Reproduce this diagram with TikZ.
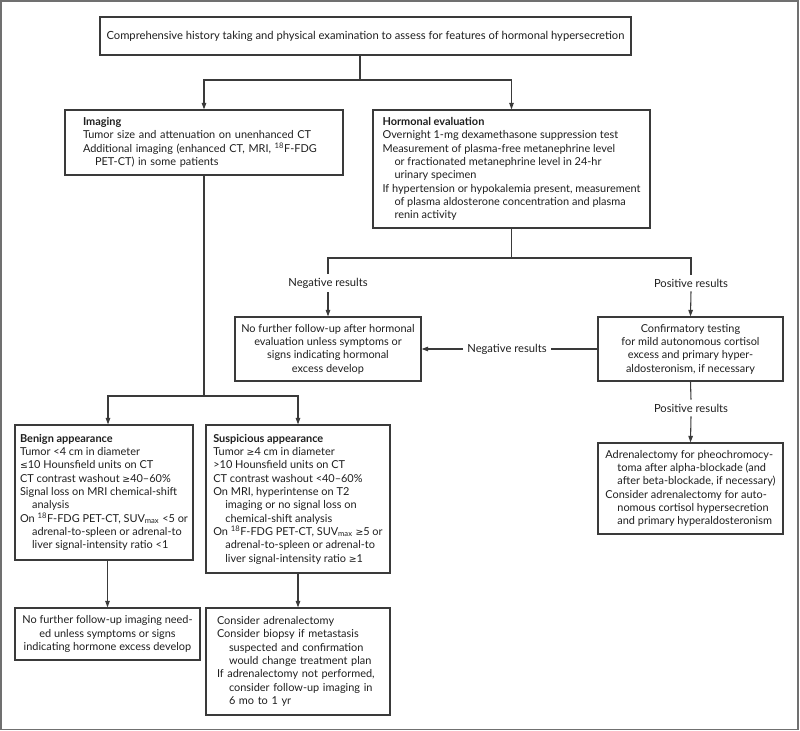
\documentclass[tikz,border=0pt]{standalone}
\usepackage{fontspec}
\setmainfont{Lato}
\newfontfamily\symf{DejaVu Sans}
\usetikzlibrary{arrows.meta,calc}
\newcommand\dge{{\symf\fontsize{7}{10}\selectfont ≥}}
\newcommand\dle{{\symf\fontsize{7}{10}\selectfont ≤}}
\newcommand\ind{\hspace*{9pt}}
\definecolor{linec}{HTML}{3A3A3A}
\definecolor{framec}{HTML}{707070}
\definecolor{txt}{HTML}{1E1E1E}
\begin{document}
\begin{tikzpicture}[x=0.75pt,y=-0.75pt,
  sz/.style 2 args={minimum width={#1*0.75pt},minimum height={#2*0.75pt}},
  box/.style={draw=linec, line width=0.8pt, align=left, inner sep=0pt,
    font=\fontsize{8.2}{10}\selectfont, text=txt},
  cbox/.style={box, align=center},
  lab/.style={font=\fontsize{8.4}{10}\selectfont, text=txt, inner xsep=3pt, inner ysep=3pt},
  conn/.style={draw=linec, line width=0.8pt},
  arr/.style={conn, -{Triangle[length=5pt,width=3.4pt]}}]
\useasboundingbox (0,0) rectangle (800,731);
\draw[framec, line width=1.2pt] (1,1) rectangle (798,729.5);

% boxes
\node[cbox, sz={531}{38}, font=\fontsize{8.4}{10}\selectfont] (top) at (365.5,36)
  {Comprehensive history taking and physical examination to assess for features of hormonal hypersecretion};

\node[box, sz={278}{65}, text width={242*0.75pt}] (imaging) at (204,142.5)
  {\mbox{\textbf{Imaging}}\\
   \mbox{Tumor size and attenuation on unenhanced CT}\\
   \mbox{Additional imaging (enhanced CT, MRI, \textsuperscript{18}F-FDG}\\
   \mbox{\ind PET-CT) in some patients}};

\node[box, sz={277}{118}] (hormonal) at (511.5,169)
  {\textbf{Hormonal evaluation}\\
   Overnight 1-mg dexamethasone suppression test\\
   Measurement of plasma-free metanephrine level\\
   \ind or fractionated metanephrine level in 24-hr\\
   \ind urinary specimen\\
   If hypertension or hypokalemia present, measurement\\
   \ind of plasma aldosterone concentration and plasma\\
   \ind renin activity};

\node[cbox, sz={186}{64}] (nofurther) at (328,349)
  {No further follow-up after hormonal\\
   evaluation unless symptoms or\\
   signs indicating hormonal\\
   excess develop};

\node[cbox, sz={185}{64}] (confirm) at (690.5,349)
  {Confirmatory testing\\
   for mild autonomous cortisol\\
   excess and primary hyper-\\
   aldosteronism, if necessary};

\node[box, sz={185}{91}] (adrenal) at (690.5,488.5)
  {Adrenalectomy for pheochromocy-\\
   \ind toma after alpha-blockade (and\\
   \ind after beta-blockade, if necessary)\\
   Consider adrenalectomy for auto-\\
   \ind nomous cortisol hypersecretion\\
   \ind and primary hyperaldosteronism};

\node[box, sz={178}{135}] (benign) at (104,492.5)
  {\textbf{Benign appearance}\\
   Tumor <4 cm in diameter\\
   \dle10 Hounsfield units on CT\\
   CT contrast washout \dge40–60\%\\
   Signal loss on MRI chemical-shift\\
   \ind analysis\\
   On \textsuperscript{18}F-FDG PET-CT, SUV\textsubscript{max} <5 or\\
   \ind adrenal-to-spleen or adrenal-to\\
   \ind liver signal-intensity ratio <1};

\node[box, sz={184}{148}] (suspicious) at (298,499)
  {\textbf{Suspicious appearance}\\
   Tumor \dge4 cm in diameter\\
   >10 Hounsfield units on CT\\
   CT contrast washout <40–60\%\\
   On MRI, hyperintense on T2\\
   \ind imaging or no signal loss on\\
   \ind chemical-shift analysis\\
   On \textsuperscript{18}F-FDG PET-CT, SUV\textsubscript{max} \dge5 or\\
   \ind adrenal-to-spleen or adrenal-to\\
   \ind liver signal-intensity ratio \dge1};

\node[cbox, sz={185}{52}] (noimg) at (107.5,634)
  {No further follow-up imaging need-\\
   ed unless symptoms or signs\\
   indicating hormone excess develop};

\node[box, sz={184}{107}, text width={162*0.75pt}] (consider) at (298,661.5)
  {\mbox{Consider adrenalectomy}\\
   \mbox{Consider biopsy if metastasis}\\
   \mbox{\ind suspected and confirmation}\\
   \mbox{\ind would change treatment plan}\\
   \mbox{If adrenalectomy not performed,}\\
   \mbox{\ind consider follow-up imaging in}\\
   \mbox{\ind 6 mo to 1 yr}};

% labels
\node[lab] (neg1) at (328,283) {Negative results};
\node[lab] (pos1) at (691,283) {Positive results};
\node[lab] (neg2) at (507,349) {Negative results};
\node[lab] (pos2) at (691,408) {Positive results};

% junction points
\coordinate (f1) at (360,80);
\coordinate (f2) at (511.5,258);
\coordinate (f3) at (204,396);
\coordinate (b1) at (108,396);

% connectors
\draw[conn] (f1 |- top.south) -- (f1);
\draw[arr] (f1) -| (imaging.north);
\draw[arr] (f1) -| (hormonal.north);

\draw[conn] (hormonal.south) -- (f2);
\draw[conn] (f2) -| (neg1.north);
\draw[arr] (neg1.south) -- (nofurther.north);
\draw[conn] (f2) -| (pos1.north);
\draw[arr] (pos1.south) -- (confirm.north);

\draw[conn] (confirm.west) -- (neg2.east);
\draw[arr] (neg2.west) -- (neg2.west -| nofurther.east);

\draw[conn] (confirm.south) -- (pos2.north);
\draw[arr] (pos2.south) -- (adrenal.north);

\draw[conn] (imaging.south) -- (f3);
\draw[arr] (f3) -- (b1) -- (b1 |- benign.north);
\draw[arr] (f3) -| (suspicious.north);

\draw[arr] (noimg.north |- benign.south) -- (noimg.north);
\draw[arr] (suspicious.south) -- (consider.north);
\end{tikzpicture}
\end{document}
